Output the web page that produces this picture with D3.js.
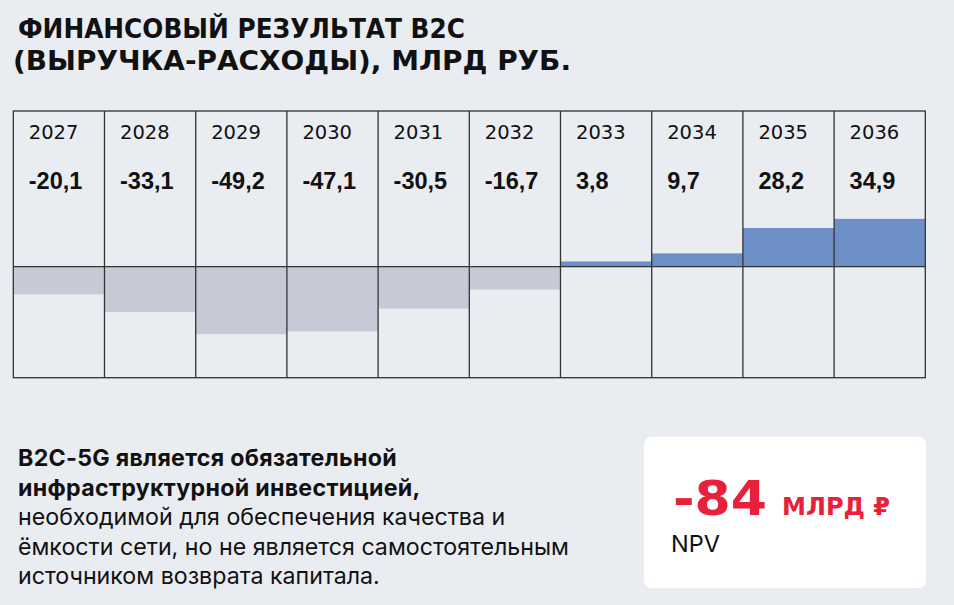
<!DOCTYPE html>
<html>
<head>
<meta charset="utf-8">
<script src="https://cdn.jsdelivr.net/npm/d3@7"></script>
<style>
  html, body { margin: 0; padding: 0; background: #e9ecf1; }
  svg { display: block; }
</style>
</head>
<body>
<div id="chart"></div>
<script>
const years = ['2027', '2028', '2029', '2030', '2031', '2032', '2033', '2034', '2035', '2036'];
const results = [-20.1, -33.1, -49.2, -47.1, -30.5, -16.7, 3.8, 9.7, 28.2, 34.9];

const titleLines = ['ФИНАНСОВЫЙ РЕЗУЛЬТАТ B2C', '(ВЫРУЧКА-РАСХОДЫ), МЛРД РУБ.'];
const noteLines = [
  {text: 'B2C-5G является обязательной', bold: true},
  {text: 'инфраструктурной инвестицией,', bold: true},
  {text: 'необходимой для обеспечения качества и', bold: false},
  {text: 'ёмкости сети, но не является самостоятельным', bold: false},
  {text: 'источником возврата капитала.', bold: false}
];
const npvValue = -84;
const npvUnit = 'МЛРД ₽';
const npvLabel = 'NPV';

const WIDTH = 954, HEIGHT = 605;
const grid = {left: 13.3, right: 925.3, top: 111, bottom: 377.7};

const ruFormat = d3.formatLocale({decimal: ',', thousands: ' ', grouping: [3], currency: ['', ''], minus: '-'});
const fmtValue = ruFormat.format('.1f');
const fmtInt = ruFormat.format('d');

const svg = d3.select('#chart')
  .append('svg')
    .attr('width', WIDTH)
    .attr('height', HEIGHT);

svg.append('rect')
  .attr('width', WIDTH)
  .attr('height', HEIGHT)
  .attr('fill', '#e9ecf1');

// title (reference font is wider, so each line is fitted to its width)
const titleWidth = [447, 558];
svg.append('g')
  .selectAll('text')
  .data(titleLines)
  .join('text')
    .attr('x', (d, i) => i === 0 ? 18 : 13)
    .attr('y', (d, i) => 37.5 + i * 32)
    .text(d => d)
    .attr('textLength', (d, i) => titleWidth[i])
    .attr('lengthAdjust', 'spacingAndGlyphs')
    .attr('font-family', 'DejaVu Sans')
    .attr('font-weight', 'bold')
    .attr('font-size', 27)
    .attr('fill', '#111');

const x = d3.scaleBand()
  .domain(years)
  .range([grid.left, grid.right])
  .padding(0);

const y = d3.scaleLinear()
  .domain([-81, 113.6])
  .range([grid.bottom, grid.top]);

const chart = svg.append('g');

// bars
chart.selectAll('rect.bar')
  .data(years.map((yr, i) => ({year: yr, value: results[i]})))
  .join('rect')
    .attr('class', 'bar')
    .attr('x', d => x(d.year))
    .attr('width', x.bandwidth())
    .attr('y', d => y(Math.max(0, d.value)))
    .attr('height', d => Math.abs(y(d.value) - y(0)))
    .attr('fill', d => d.value < 0 ? '#c7cad6' : '#6d8fc7');

// grid lines
const lineColor = '#333333';
chart.append('rect')
  .attr('x', grid.left)
  .attr('y', grid.top)
  .attr('width', grid.right - grid.left)
  .attr('height', grid.bottom - grid.top)
  .attr('fill', 'none')
  .attr('stroke', lineColor)
  .attr('stroke-width', 1.3);

chart.selectAll('line.col')
  .data(years.slice(1))
  .join('line')
    .attr('class', 'col')
    .attr('x1', d => x(d))
    .attr('x2', d => x(d))
    .attr('y1', grid.top)
    .attr('y2', grid.bottom)
    .attr('stroke', lineColor)
    .attr('stroke-width', 1.3);

chart.append('line')
  .attr('x1', grid.left)
  .attr('x2', grid.right)
  .attr('y1', y(0))
  .attr('y2', y(0))
  .attr('stroke', lineColor)
  .attr('stroke-width', 1.3);

// year + value labels
chart.selectAll('text.year')
  .data(years)
  .join('text')
    .attr('class', 'year')
    .attr('x', d => x(d) + 15.5)
    .attr('y', 139.3)
    .text(d => d)
    .attr('font-family', 'DejaVu Sans')
    .attr('font-size', 19.5)
    .attr('fill', '#111');

chart.selectAll('text.value')
  .data(years.map((yr, i) => ({year: yr, value: results[i]})))
  .join('text')
    .attr('class', 'value')
    .attr('x', d => x(d.year) + 15.5)
    .attr('y', 189.3)
    .text(d => fmtValue(d.value))
    .attr('font-family', 'Liberation Sans')
    .attr('font-weight', 'bold')
    .attr('font-size', 23.5)
    .attr('fill', '#111');

// note
svg.append('g')
  .selectAll('text')
  .data(noteLines)
  .join('text')
    .attr('x', 18)
    .attr('y', (d, i) => 466 + i * 29.5)
    .text(d => d.text)
    .attr('font-family', 'Inter')
    .attr('font-weight', d => d.bold ? 700 : 400)
    .attr('font-size', 23.2)
    .attr('letter-spacing', d => d.bold ? 0.3 : 0)
    .attr('fill', '#111');

// NPV card
const card = svg.append('g');
card.append('rect')
  .attr('x', 644)
  .attr('y', 436.7)
  .attr('width', 282)
  .attr('height', 151.6)
  .attr('rx', 8)
  .attr('fill', '#ffffff');

card.append('text')
  .attr('x', 673)
  .attr('y', 515)
  .text(fmtInt(npvValue))
  .attr('textLength', 94)
  .attr('lengthAdjust', 'spacingAndGlyphs')
  .attr('fill', '#e8203a')
  .attr('font-family', 'DejaVu Sans')
  .attr('font-weight', 'bold')
  .attr('font-size', 48);

card.append('text')
  .attr('x', 782)
  .attr('y', 515)
  .text(npvUnit)
  .attr('textLength', 108)
  .attr('lengthAdjust', 'spacingAndGlyphs')
  .attr('fill', '#e8203a')
  .attr('font-family', 'DejaVu Sans')
  .attr('font-weight', 'bold')
  .attr('font-size', 24.5);

card.append('text')
  .attr('x', 671)
  .attr('y', 551.7)
  .text(npvLabel)
  .attr('font-family', 'Inter')
  .attr('font-size', 23.5)
  .attr('fill', '#111');
</script>
</body>
</html>
